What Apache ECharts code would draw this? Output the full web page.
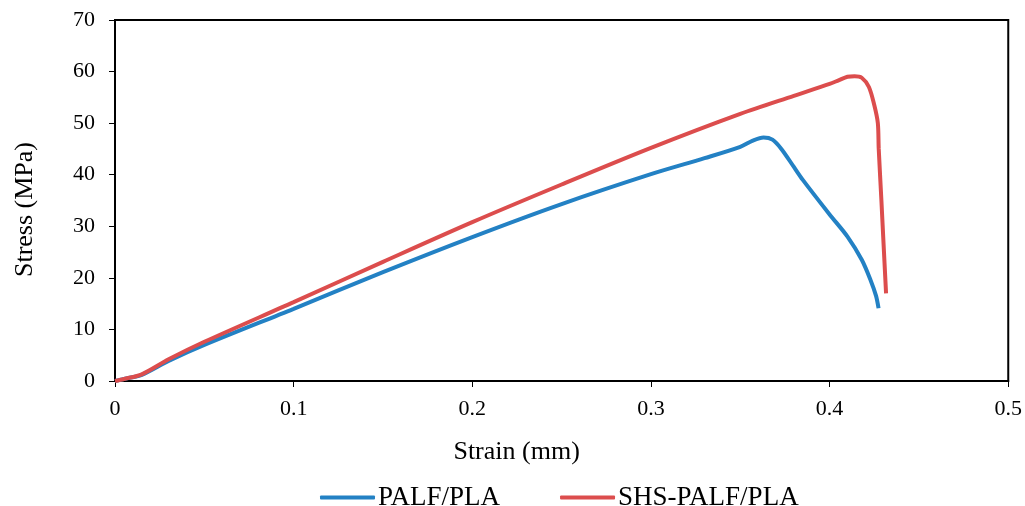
<!DOCTYPE html>
<html><head><meta charset="utf-8">
<script src="https://cdn.jsdelivr.net/npm/echarts@6/dist/echarts.min.js"></script>
<style>html,body{margin:0;padding:0;background:#fff}#c{width:1025px;height:506px}</style>
</head><body><div id="c"></div>
<script>
const palfStrain = [0, 0.005, 0.015, 0.03, 0.05, 0.1, 0.15, 0.2, 0.25, 0.3, 0.33, 0.35, 0.357, 0.363, 0.368, 0.373, 0.38, 0.385, 0.4, 0.41, 0.418, 0.423, 0.426, 0.4274];
const palfStress = [0, 0.4, 1.2, 3.9, 7.0, 14.0, 21.1, 27.9, 34.3, 40.1, 43.2, 45.4, 46.6, 47.2, 46.8, 45.0, 41.5, 39.0, 32.3, 28.0, 23.5, 19.5, 16.5, 14.1];
const shsStrain = [0, 0.005, 0.015, 0.03, 0.05, 0.1, 0.15, 0.2, 0.25, 0.3, 0.35, 0.38, 0.4, 0.405, 0.41, 0.414, 0.418, 0.422, 0.425, 0.427, 0.4275, 0.429, 0.43, 0.4316];
const shsStress = [0, 0.4, 1.3, 4.2, 7.6, 15.3, 23.1, 30.8, 38.1, 45.2, 51.8, 55.3, 57.6, 58.3, 59.0, 59.1, 58.8, 57.0, 53.5, 50.0, 45.0, 35.0, 28.0, 17.0];
const seriesNames = ['PALF/PLA', 'SHS-PALF/PLA'];
const colors = ['#2381c4', '#dc4d4d'];

const font = 'Liberation Serif';
const chart = echarts.init(document.getElementById('c'));
const zip = (a, b) => a.map((v, i) => [v, b[i]]);
chart.setOption({
  animation: false,
  textStyle: {fontFamily: font},
  grid: {left: 115, right: 15, top: 20, bottom: 125, show: true, borderColor: '#000', borderWidth: 2},
  legend: {
    top: 479, left: 315, itemWidth: 55, itemHeight: 4, itemGap: 60,
    icon: 'roundRect',
    textStyle: {fontFamily: font, fontSize: 27, color: '#000', padding: [0, 0, 0, -2]},
    data: seriesNames
  },
  xAxis: {
    type: 'value', min: 0, max: 0.5, interval: 0.1,
    name: 'Strain (mm)', nameLocation: 'middle', nameGap: 58,
    nameTextStyle: {fontFamily: font, fontSize: 26, color: '#000', padding: [0, 90, 0, 0]},
    axisLine: {lineStyle: {color: '#000', width: 2}},
    axisTick: {show: true, length: 6, lineStyle: {color: '#000', width: 1}},
    axisLabel: {fontFamily: font, fontSize: 22, color: '#000', margin: 17},
    splitLine: {show: false}
  },
  yAxis: {
    type: 'value', min: 0, max: 70, interval: 10,
    name: 'Stress (MPa)', nameLocation: 'middle', nameGap: 77,
    nameTextStyle: {fontFamily: font, fontSize: 26, color: '#000', padding: [0, 18, 0, 0]},
    axisLine: {show: true, lineStyle: {color: '#000', width: 2}},
    axisTick: {show: true, length: 6, lineStyle: {color: '#000', width: 1}},
    axisLabel: {fontFamily: font, fontSize: 22, color: '#000', margin: 20},
    splitLine: {show: false}
  },
  series: [
    {name: seriesNames[0], type: 'line', data: zip(palfStrain, palfStress), smooth: 0.3, showSymbol: false, lineStyle: {color: colors[0], width: 4}, itemStyle: {color: colors[0]}},
    {name: seriesNames[1], type: 'line', data: zip(shsStrain, shsStress), smooth: 0.3, showSymbol: false, lineStyle: {color: colors[1], width: 4}, itemStyle: {color: colors[1]}}
  ]
});
</script></body></html>
